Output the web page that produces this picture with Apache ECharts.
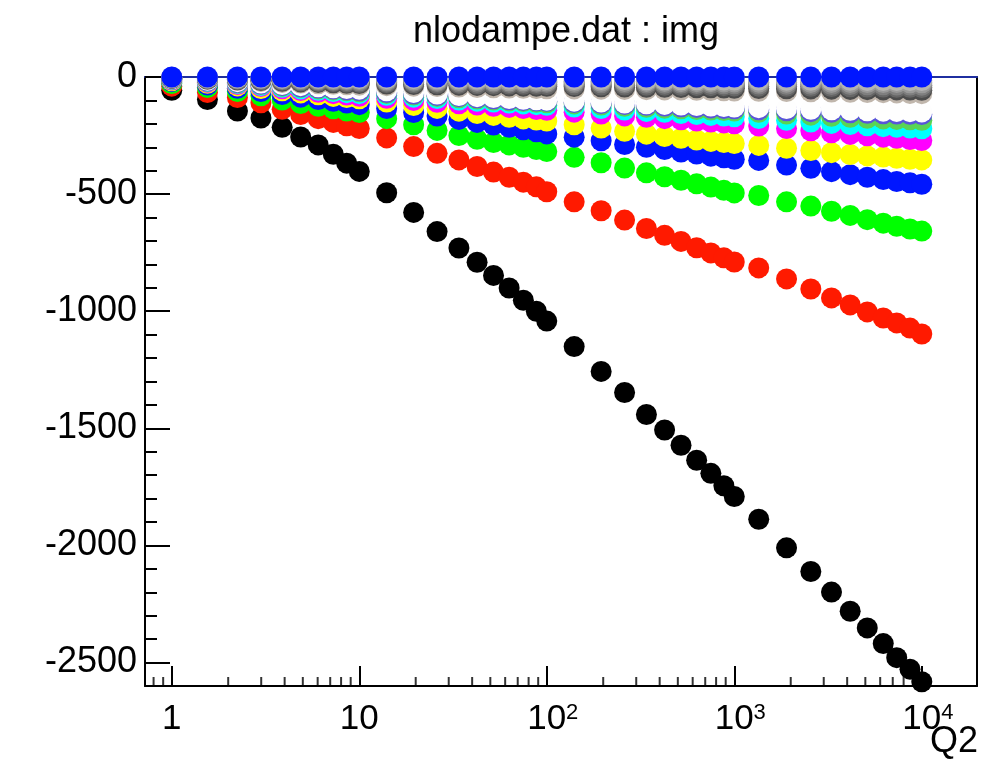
<!DOCTYPE html>
<html>
<head>
<meta charset="utf-8">
<script src="https://cdn.jsdelivr.net/npm/echarts@6/dist/echarts.min.js"></script>
<style>
html,body{margin:0;padding:0;background:#fff;}
#chart{width:998px;height:771px;}
</style>
</head>
<body>
<div id="chart"></div>
<script>
// ---- data ----
const q2 = [1, 1.55, 2.24, 2.99, 3.88, 4.87, 6.04, 7.27, 8.57, 10,
  14, 19.5, 26, 34, 42.5, 52, 63, 75, 88, 100,
  140, 195, 260, 340, 425, 520, 630, 750, 880, 1000,
  1350, 1900, 2560, 3300, 4150, 5120, 6230, 7350, 8650, 10000];

const sBlack = [-57, -96, -145, -175, -215, -256, -290, -330, -368, -403,
  -494, -578, -660, -730, -791, -847, -901, -953, -1000, -1042,
  -1151, -1257, -1347, -1441, -1507, -1572, -1636, -1692, -1745, -1791,
  -1888, -2010, -2111, -2199, -2281, -2352, -2419, -2479, -2528, -2582];
const sRed = [-39, -66, -88, -110, -138, -160, -178, -194, -208, -220,
  -260, -297, -326, -354, -382, -406, -428, -449, -469, -490,
  -533, -571, -611, -647, -676, -702, -729, -751, -772, -790,
  -815, -862, -905, -943, -973, -1003, -1029, -1050, -1072, -1097];
const sGreen = [-28, -45, -62, -80, -98, -113, -125, -136, -145, -152,
  -178, -204, -228, -250, -266, -280, -290, -300, -310, -318,
  -343, -366, -389, -409, -426, -441, -456, -470, -484, -495,
  -506, -533, -551, -573, -591, -609, -624, -637, -649, -658];
const sBlue = [-20, -34, -48, -62, -75, -86, -96, -104, -111, -118,
  -135, -152, -167, -181, -194, -205, -215, -225, -234, -243,
  -257, -272, -288, -300, -310, -320, -329, -338, -345, -351,
  -356, -376, -390, -404, -417, -428, -438, -446, -452, -458];
const sYellow = [-16, -27, -38, -49, -59, -68, -76, -83, -88, -93,
  -107, -122, -134, -146, -156, -164, -172, -179, -184, -188,
  -204, -218, -232, -244, -254, -262, -269, -275, -280, -284,
  -292, -304, -314, -323, -331, -337, -342, -347, -351, -354];
const sMagenta = [-13, -22, -32, -41, -50, -58, -65, -71, -77, -82,
  -91, -100, -108, -114, -120, -125, -130, -135, -139, -142,
  -150, -158, -166, -172, -178, -183, -188, -192, -196, -200,
  -209, -220, -230, -238, -245, -251, -257, -262, -267, -271];
const sCyan = [-11, -19, -28, -36, -44, -51, -57, -62, -67, -71,
  -78, -86, -92, -98, -103, -107, -111, -115, -118, -121,
  -128, -135, -141, -147, -151, -156, -160, -164, -167, -170,
  -177, -185, -192, -198, -203, -208, -212, -215, -218, -221];
const sGreen8 = [-10, -17, -25, -32, -39, -45, -51, -55, -59, -63,
  -70, -77, -83, -89, -94, -98, -102, -105, -108, -110,
  -115, -120, -125, -129, -133, -136, -139, -141, -143, -145,
  -151, -158, -163, -168, -172, -176, -179, -181, -183, -185];
const sViolet = [-9, -16, -23, -30, -36, -42, -47, -51, -55, -59,
  -66, -73, -79, -84, -89, -93, -97, -100, -102, -104,
  -109, -113, -117, -121, -124, -127, -130, -132, -134, -136,
  -140, -144, -148, -151, -153, -155, -157, -158, -159, -160];
const sWhite = [-8, -14, -20, -26, -32, -37, -42, -46, -49, -52,
  -59, -66, -73, -79, -84, -88, -92, -95, -97, -99,
  -103, -107, -111, -114, -117, -120, -122, -124, -126, -128,
  -131, -135, -138, -140, -142, -144, -146, -147, -148, -149];
const sBeige = [-7, -11, -15, -19, -23, -26, -29, -31, -33, -35,
  -37, -39, -41, -43, -45, -46, -47, -48, -49, -50,
  -51, -52, -53, -54, -55, -56, -57, -58, -59, -60,
  -61, -62, -63, -64, -65, -66, -67, -68, -70, -71];
const sGrey30 = [-6, -9, -12, -15, -18, -21, -23, -25, -27, -28,
  -30, -32, -33, -35, -36, -37, -38, -39, -39, -40,
  -41, -42, -43, -44, -44, -45, -46, -46, -47, -48,
  -49, -50, -51, -52, -53, -54, -55, -55, -56, -57];
const sGrey40 = [-5, -7, -10, -12, -14, -16, -18, -19, -21, -22,
  -24, -25, -27, -28, -29, -30, -30, -31, -31, -32,
  -33, -34, -34, -35, -35, -36, -36, -37, -37, -38,
  -39, -40, -40, -41, -42, -43, -43, -44, -44, -45];
const sGrey50 = [-4, -6, -8, -9, -11, -12, -13, -14, -15, -16,
  -17, -19, -20, -21, -22, -22, -23, -23, -24, -24,
  -25, -25, -26, -26, -27, -27, -28, -28, -29, -29,
  -30, -31, -31, -32, -32, -33, -33, -34, -34, -35];
const sGrey60 = [-3, -4, -5, -6, -7, -8, -9, -10, -10, -11,
  -12, -13, -14, -15, -15, -16, -16, -16, -17, -17,
  -18, -18, -19, -19, -19, -20, -20, -20, -21, -21,
  -22, -22, -23, -23, -23, -24, -24, -24, -25, -25];
const sGrey70 = [-1, -2, -3, -3, -4, -4, -5, -5, -6, -6,
  -7, -7, -8, -8, -9, -9, -9, -10, -10, -10,
  -11, -11, -11, -12, -12, -12, -12, -13, -13, -13,
  -13, -14, -14, -14, -14, -15, -15, -15, -15, -15];
const sTop = [0, 0, 0, 0, 0, 0, 0, 0, 0, 0,
  0, 0, 0, 0, 0, 0, 0, 0, 0, 0,
  0, 0, 0, 0, 0, 0, 0, 0, 0, 0,
  0, 0, 0, 0, 0, 0, 0, 0, 0, 0];

const allSeries = [sBlack, sRed, sGreen, sBlue, sYellow, sMagenta, sCyan, sGreen8, sViolet,
  sWhite, sBeige, sGrey30, sGrey40, sGrey50, sGrey60, sGrey70, sTop];
const seriesColors = ['#000000', '#ff1a00', '#00ff00', '#0016ff', '#ffff00', '#ff00ff', '#00ffff',
  '#59d454', '#5954d9', '#fefefe', '#c0b6ac', '#4c4c4c', '#666666', '#7f7f7f', '#999999', '#b3b3b3', '#0016ff'];

const xMinorTicks = [0.8, 0.9, 2, 3, 4, 5, 6, 7, 8, 9, 20, 30, 40, 50, 60, 70, 80, 90,
  200, 300, 400, 500, 600, 700, 800, 900, 2000, 3000, 4000, 5000, 6000, 7000, 8000, 9000];

const titleText = 'nlodampe.dat : img';
const xName = 'Q2';

// ---- chart ----
const FONT = "'Liberation Sans', Arial, Helvetica, sans-serif";
const chart = echarts.init(document.getElementById('chart'), null, {renderer: 'canvas'});

const series = allSeries.map((vals, i) => ({
  type: 'scatter',
  xAxisIndex: 0,
  yAxisIndex: 0,
  data: q2.map((x, j) => [x, vals[j]]),
  symbol: 'circle',
  symbolSize: 21,
  itemStyle: {color: seriesColors[i], opacity: 1},
  clip: false,
  silent: true,
  animation: false
}));

series.push({
  type: 'scatter',
  xAxisIndex: 0,
  yAxisIndex: 0,
  data: xMinorTicks.map(x => [x, -2600]),
  symbol: 'rect',
  symbolSize: [2, 9],
  symbolOffset: [0, -4.5],
  itemStyle: {color: '#000'},
  clip: false,
  silent: true,
  animation: false,
  z: 5
});

const option = {
  backgroundColor: '#ffffff',
  animation: false,
  title: {
    text: titleText,
    left: 561,
    top: 9,
    textAlign: 'center',
    textStyle: {fontSize: 36, fontWeight: 'normal', color: '#000', fontFamily: FONT}
  },
  graphic: [{
    type: 'text',
    right: 20,
    top: 724,
    silent: true,
    style: {text: xName, fontSize: 36, fill: '#000', fontFamily: FONT}
  }],
  grid: {left: 145, right: 21, top: 77, bottom: 85, containLabel: false, outerBoundsMode: 'none'},
  xAxis: [{
    type: 'log', logBase: 10, min: 0.72, max: 19700, position: 'bottom',
    axisLine: {show: true, onZero: false, lineStyle: {color: '#000', width: 2}},
    axisTick: {show: true, inside: true, length: 20, lineStyle: {color: '#000', width: 2}},
    splitLine: {show: false},
    minorTick: {show: false},
    axisLabel: {
      show: true, margin: 16, showMinLabel: false, showMaxLabel: false,
      color: '#000', fontSize: 35, fontFamily: FONT,
      formatter: function (v) {
        const e = Math.round(Math.log10(v));
        if (e === 0) return '1';
        if (e === 1) return '10';
        return '{b|10}{s|' + e + '}';
      },
      rich: {
        b: {fontSize: 35, fontFamily: FONT, color: '#000', padding: [0, 0, 0, 12], lineHeight: 35},
        s: {fontSize: 22, fontFamily: FONT, color: '#000', verticalAlign: 'top', lineHeight: 22}
      }
    }
  }, {
    type: 'log', logBase: 10, min: 0.72, max: 19700, position: 'top',
    axisLine: {show: true, onZero: false, lineStyle: {color: '#1f2fa0', width: 2}},
    axisTick: {show: false}, axisLabel: {show: false}, splitLine: {show: false}
  }],
  yAxis: [{
    type: 'value', min: -2600, max: 0, interval: 100, position: 'left',
    axisLine: {show: true, onZero: false, lineStyle: {color: '#000', width: 2}},
    axisTick: {show: true, inside: true, length: 12, lineStyle: {color: '#000', width: 2}},
    axisLabel: {show: false},
    splitLine: {show: false}
  }, {
    type: 'value', inverse: true, min: 0, max: 2600, interval: 500, position: 'left', offset: 0,
    axisLine: {show: false, onZero: false},
    axisTick: {show: true, inside: true, length: 25, lineStyle: {color: '#000', width: 2}},
    axisLabel: {
      show: true, margin: 8, showMaxLabel: false, color: '#000', fontSize: 36, fontFamily: FONT,
      formatter: function (v) { return v === 0 ? '0' : '-' + v; }
    },
    splitLine: {show: false}
  }, {
    type: 'value', min: -2600, max: 0, position: 'right', offset: 0,
    axisLine: {show: true, onZero: false, lineStyle: {color: '#000', width: 2}},
    axisTick: {show: false}, axisLabel: {show: false}, splitLine: {show: false}
  }],
  series: series
};
chart.setOption(option);
</script>
</body>
</html>
